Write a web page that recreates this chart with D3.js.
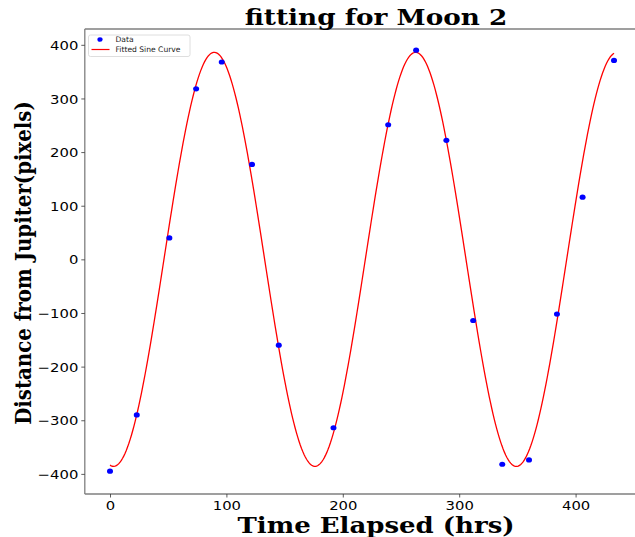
<!DOCTYPE html>
<html>
<head>
<meta charset="utf-8">
<script src="https://cdn.jsdelivr.net/npm/d3@7"></script>
<style>
  html, body { margin: 0; padding: 0; background: #fff; }
  svg { display: block; }
</style>
</head>
<body>
<svg id="chart" width="635" height="537"></svg>
<script>
// Observation times (hours) and measured distance of Moon 2 from Jupiter (pixels)
const timeHrs = [0, 23, 51, 74, 96, 122, 145, 192, 239, 263, 289, 312, 337, 360, 384, 406, 433];
const distancePx = [-395, -290, 40, 318, 368, 177, -160, -314, 251, 390, 222, -114, -382, -374, -102, 116, 371];

// Parameters of the fitted sine model y = A * sin(2π (t - t0) / P) + c
const fitAmplitude = 386;
const fitPeriod = 173;
const fitPhase = 46.35;
const fitOffset = 0;

const xTicks = [0, 100, 200, 300, 400];
const yTicks = [-400, -300, -200, -100, 0, 100, 200, 300, 400];

const titleText = "fitting for Moon 2";
const xLabelText = "Time Elapsed (hrs)";
const yLabelText = "Distance from Jupiter(pixels)";
const legendLabels = ["Data", "Fitted Sine Curve"];

const svg = d3.select("#chart");
const serif = "'DejaVu Serif', serif";
const sans = "'DejaVu Sans', sans-serif";
const squash = 0.86; // vertical text compression

const x = d3.scaleLinear().domain([-21.65, 454.65]).range([84.8, 639.2]);
const y = d3.scaleLinear().domain([-437.5, 429.5]).range([494, 29]);

// sampled fit curve over the observation span
const tMin = d3.min(timeHrs), tMax = d3.max(timeHrs);
const fitCurve = d3.range(0, 401).map(i => {
  const t = tMin + (tMax - tMin) * i / 400;
  return [t, fitAmplitude * Math.sin(2 * Math.PI * (t - fitPhase) / fitPeriod) + fitOffset];
});

const plot = svg.append("g");

plot.append("path")
  .datum(fitCurve)
  .attr("fill", "none")
  .attr("stroke", "#ff0000")
  .attr("stroke-width", 1.3)
  .attr("d", d3.line().x(d => x(d[0])).y(d => y(d[1])));

plot.selectAll("ellipse.pt")
  .data(timeHrs.map((t, i) => [t, distancePx[i]]))
  .join("ellipse")
  .attr("class", "pt")
  .attr("cx", d => x(d[0]))
  .attr("cy", d => y(d[1]))
  .attr("rx", 3)
  .attr("ry", 2.6)
  .attr("fill", "#0000ff");

// axes
const spine = "#7f7f7f";
const fmt = d => (d < 0 ? "\u2212" + Math.abs(d) : String(d));

const xAxis = svg.append("g")
  .attr("transform", `translate(0,${y.range()[0]})`)
  .call(d3.axisBottom(x).tickValues(xTicks).tickSize(3.5).tickFormat(fmt));
const yAxis = svg.append("g")
  .attr("transform", `translate(${x.range()[0]},0)`)
  .call(d3.axisLeft(y).tickValues(yTicks).tickSize(3.5).tickFormat(fmt));

[xAxis, yAxis].forEach(g => {
  g.select(".domain").attr("stroke", spine).attr("stroke-width", 1.3);
  g.selectAll(".tick line").attr("stroke", "#333").attr("stroke-width", 0.8);
  g.selectAll(".tick text")
    .attr("fill", "#000")
    .style("font-family", sans)
    .style("font-size", "14.8px");
});
// tick labels, compressed vertically like the rest of the lettering
xAxis.selectAll(".tick text")
  .attr("y", null).attr("dy", null)
  .attr("transform", `translate(0,16) scale(1,${squash})`);
yAxis.selectAll(".tick text")
  .attr("x", null).attr("dy", null)
  .attr("transform", `translate(-6.5,4.6) scale(1,${squash})`);

// plain box edges
xAxis.select(".domain").attr("d", `M${x.range()[0]},0H${x.range()[1]}`);
yAxis.select(".domain").attr("d", `M0,${y.range()[0]}V${y.range()[1]}`);
svg.append("line")
  .attr("x1", x.range()[0]).attr("x2", x.range()[1])
  .attr("y1", y.range()[1]).attr("y2", y.range()[1])
  .attr("stroke", spine).attr("stroke-width", 1.3);
svg.append("line")
  .attr("x1", x.range()[1]).attr("x2", x.range()[1])
  .attr("y1", y.range()[0]).attr("y2", y.range()[1])
  .attr("stroke", spine).attr("stroke-width", 1.3);

// titles
function squashedText(px, py, rotate) {
  const t = `translate(${px},${py}) scale(1,${squash})` + (rotate ? " rotate(-90)" : "");
  return svg.append("text").attr("transform", t).attr("text-anchor", "middle");
}
squashedText(376, 25, false)
  .style("font-family", serif).style("font-weight", "bold").style("font-size", "26.3px")
  .text(titleText);
squashedText(376, 532.5, false)
  .style("font-family", serif).style("font-weight", "bold").style("font-size", "26px")
  .text(xLabelText);
squashedText(31, 263, true)
  .style("font-family", serif).style("font-weight", "bold").style("font-size", "23px")
  .text(yLabelText);

// legend
const lg = svg.append("g").attr("transform", "translate(88.5,35)");
lg.append("rect")
  .attr("width", 101.5).attr("height", 21.5).attr("rx", 2)
  .attr("fill", "#fff").attr("fill-opacity", 0.8)
  .attr("stroke", "#d6d6d6").attr("stroke-width", 0.8);
lg.append("ellipse").attr("cx", 11.5).attr("cy", 4.5).attr("rx", 2.6).attr("ry", 2.3).attr("fill", "#0000ff");
lg.append("line").attr("x1", 3).attr("x2", 21).attr("y1", 14.5).attr("y2", 14.5)
  .attr("stroke", "#ff0000").attr("stroke-width", 1.2);
lg.selectAll("text.lbl")
  .data(legendLabels)
  .join("text")
  .attr("class", "lbl")
  .attr("x", 27)
  .attr("y", (d, i) => 7 + i * 10.3)
  .style("font-family", sans)
  .style("font-size", "7.6px")
  .attr("fill", "#222")
  .text(d => d);
</script>
</body>
</html>
